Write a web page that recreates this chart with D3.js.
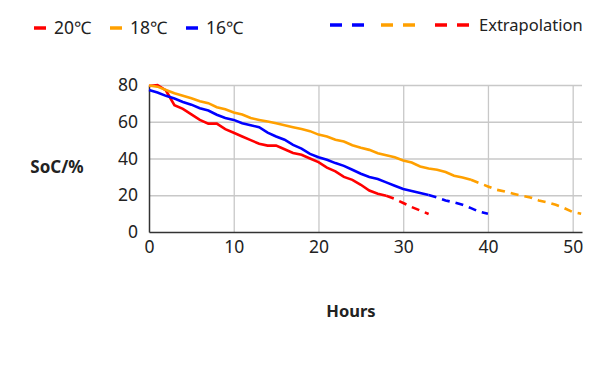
<!DOCTYPE html>
<html>
<head>
<meta charset="utf-8">
<script src="https://cdn.jsdelivr.net/npm/d3@7"></script>
<style>
  body { margin: 0; background: #fff; }
  svg text { font-family: "Noto Sans", sans-serif; fill: #222; }
</style>
</head>
<body>
<div id="chart"></div>
<script>
// measured SoC (%) per hour, starting at hour 0
const soc20 = [79.5, 80, 77, 69, 67, 64, 61, 59, 59, 56, 54, 52, 50, 48, 47, 47, 45, 43, 42, 40,
  38, 35, 33, 30, 28.4, 25.7, 22.6, 20.8, 19.7];
const soc18 = [79.7, 79.1, 77.3, 75.5, 74.1, 72.8, 71.2, 70.1, 67.9, 66.8, 65, 63.9, 62, 61, 60.1,
  59.2, 58.1, 57, 56, 54.9, 53, 52, 50.2, 49.2, 47.2, 45.8, 44.7, 42.9, 41.8, 40.7, 38.9, 37.8,
  35.7, 34.6, 33.9, 32.6, 30.6, 29.7, 28.4];
const soc16 = [77.3, 75.9, 74.1, 72.6, 70.8, 69.3, 67.4, 66.1, 63.8, 62, 61, 59.2, 58.1, 57, 54.1,
  52, 50.2, 47.4, 45.4, 42.5, 40.7, 39.3, 37.5, 36, 33.9, 31.7, 29.9, 28.8, 27, 25.2, 23.4, 22.3,
  21.2, 20.1];

// extrapolations, each starting at the last measured hour
const ext20Start = 28;
const ext20 = [19.7, 18, 15.8, 13.6, 11.7, 9.8];
const ext18Start = 38;
const ext18 = [28.4, 26.6, 24.8, 23, 22, 20.8, 19.7, 18.8, 17.2, 16.1, 14.8, 13, 10.9, 9.9];
const ext16Start = 33;
const ext16 = [20.1, 18.8, 17.2, 16.1, 14.8, 13, 11, 9.9];

const xTicks = [0, 10, 20, 30, 40, 50];
const yTicks = [0, 20, 40, 60, 80];

const legendItems = ["20℃", "18℃", "16℃"];
const colors = { "20℃": "#ff0000", "18℃": "#ffa000", "16℃": "#0000ff" };

const width = 600, height = 371;
const margin = { top: 85, right: 18, bottom: 139, left: 149 };

const svg = d3.select("#chart").append("svg")
  .attr("width", width)
  .attr("height", height);

const x = d3.scaleLinear().domain([0, 51.1]).range([margin.left, width - margin.right]);
const y = d3.scaleLinear().domain([0, 80]).range([height - margin.bottom, margin.top]);

// grid
svg.append("g")
  .attr("transform", `translate(0,${height - margin.bottom})`)
  .call(d3.axisBottom(x).tickValues(xTicks.slice(1)).tickSize(-(y(0) - y(80))).tickFormat(""))
  .call((g) => g.select(".domain").remove())
  .call((g) => g.selectAll("line").attr("stroke", "#c8c8c8").attr("stroke-width", 1.3));

svg.append("g")
  .attr("transform", `translate(${margin.left},0)`)
  .call(d3.axisLeft(y).tickValues(yTicks.slice(1)).tickSize(-(x(51.1) - x(0))).tickFormat(""))
  .call((g) => g.select(".domain").remove())
  .call((g) => g.selectAll("line").attr("stroke", "#c8c8c8").attr("stroke-width", 1.3));

// axes
const xAxis = svg.append("g")
  .attr("transform", `translate(0,${height - margin.bottom})`)
  .call(d3.axisBottom(x).tickValues(xTicks).tickSize(0).tickPadding(9).tickSizeOuter(0));
const yAxis = svg.append("g")
  .attr("transform", `translate(${margin.left},0)`)
  .call(d3.axisLeft(y).tickValues(yTicks).tickSize(0).tickPadding(11).tickSizeOuter(0));

[xAxis, yAxis].forEach((g) => {
  g.select(".domain").attr("stroke", "#333").attr("stroke-width", 1.5);
  g.selectAll("text").attr("font-size", 17.5).attr("font-family", "Noto Sans").attr("fill", "#222");
});

// lines
const line = d3.line().x((d) => x(d[0])).y((d) => y(d[1]));
const toPts = (arr, start) => arr.map((v, i) => [start + i, v]);

const series = [
  { key: "20℃", pts: toPts(soc20, 0), dash: null },
  { key: "18℃", pts: toPts(soc18, 0), dash: null },
  { key: "16℃", pts: toPts(soc16, 0), dash: null },
  { key: "20℃", pts: toPts(ext20, ext20Start), dash: "8,6" },
  { key: "18℃", pts: toPts(ext18, ext18Start), dash: "8,6" },
  { key: "16℃", pts: toPts(ext16, ext16Start), dash: "8,6" },
];

svg.append("g")
  .selectAll("path")
  .data(series)
  .join("path")
  .attr("d", (d) => line(d.pts))
  .attr("fill", "none")
  .attr("stroke", (d) => colors[d.key])
  .attr("stroke-width", 2.6)
  .attr("stroke-dasharray", (d) => d.dash);

// axis titles
svg.append("text")
  .attr("x", 57).attr("y", 173)
  .attr("text-anchor", "middle")
  .attr("font-size", 17).attr("font-weight", "bold")
  .text("SoC/%");

svg.append("text")
  .attr("x", 351).attr("y", 317)
  .attr("text-anchor", "middle")
  .attr("font-size", 16.5).attr("font-weight", "bold")
  .text("Hours");

// legend, solid series
const legend = svg.append("g");
const legendX = [34, 110, 186];
legendItems.forEach((k, i) => {
  legend.append("line")
    .attr("x1", legendX[i]).attr("x2", legendX[i] + 12)
    .attr("y1", 28).attr("y2", 28)
    .attr("stroke", colors[k]).attr("stroke-width", 3.5);
  legend.append("text")
    .attr("x", legendX[i] + 20).attr("y", 34)
    .attr("font-size", 17.5)
    .text(k);
});

// legend, extrapolation
const extKeys = ["16℃", "18℃", "20℃"];
const extX = [330, 381, 435];
extKeys.forEach((k, i) => {
  legend.append("line")
    .attr("x1", extX[i]).attr("x2", extX[i] + 35)
    .attr("y1", 25).attr("y2", 25)
    .attr("stroke", colors[k]).attr("stroke-width", 3.5)
    .attr("stroke-dasharray", "12,10");
});
legend.append("text")
  .attr("x", 479).attr("y", 31)
  .attr("font-size", 16.5)
  .text("Extrapolation");
</script>
</body>
</html>
